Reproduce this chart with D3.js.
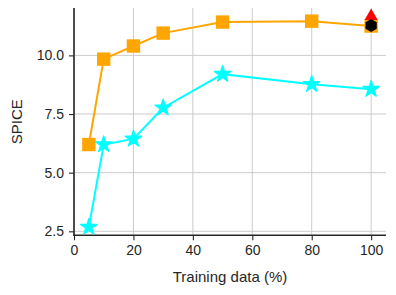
<!DOCTYPE html>
<html>
<head>
<meta charset="utf-8">
<script src="https://cdn.jsdelivr.net/npm/d3@7"></script>
<style>
  body { margin: 0; background: #fff; }
  svg { display: block; font-family: "Liberation Sans", Arial, sans-serif; }
</style>
</head>
<body>
<svg id="chart" width="396" height="295"></svg>
<script>
// data
const trainPct = [5, 10, 20, 30, 50, 80, 100];
const squareSeries = [6.2, 9.84, 10.4, 10.95, 11.42, 11.46, 11.25];
const starSeries = [2.68, 6.2, 6.44, 7.77, 9.2, 8.77, 8.56];
const extraX = [100];
const triangleVal = [11.67];
const hexVal = [11.27];
const xTicks = [0, 20, 40, 60, 80, 100];
const yTicks = [2.5, 5.0, 7.5, 10.0];

const svg = d3.select('#chart');
const plotL = 74, plotR = 386, plotT = 8, plotB = 235.3;

const x = d3.scaleLinear().domain([0, 105]).range([plotL, plotR]);
const y = d3.scaleLinear().domain([2.33, 12.02]).range([plotB, plotT]);

// grid
svg.append('g')
    .selectAll('line')
    .data(xTicks)
    .enter()
    .append('line')
    .attr('x1', d => x(d)).attr('x2', d => x(d))
    .attr('y1', plotT).attr('y2', plotB)
    .attr('stroke', '#cccccc').attr('stroke-width', 1);
svg.append('g')
    .selectAll('line')
    .data(yTicks)
    .enter()
    .append('line')
    .attr('x1', plotL).attr('x2', plotR)
    .attr('y1', d => y(d)).attr('y2', d => y(d))
    .attr('stroke', '#cccccc').attr('stroke-width', 1);

// axes
const xAxis = d3.axisBottom(x).tickValues(xTicks).tickSize(5).tickPadding(5).tickFormat(d3.format('d'));
const yAxis = d3.axisLeft(y).tickValues(yTicks).tickSize(5).tickPadding(5).tickFormat(d3.format('.1f'));

const gx = svg.append('g').attr('transform', `translate(0,${plotB})`).call(xAxis);
const gy = svg.append('g').attr('transform', `translate(${plotL},0)`).call(yAxis);
[gx, gy].forEach(g => {
    g.select('.domain').remove();
    g.selectAll('line').attr('stroke', '#262626').attr('stroke-width', 1.1);
    g.selectAll('text').attr('fill', '#262626').style('font-size', '14px')
        .style('font-family', '"Liberation Sans", Arial, sans-serif');
});

// spines
svg.append('line').attr('x1', plotL).attr('x2', plotL).attr('y1', plotT).attr('y2', plotB + 0.6)
    .attr('stroke', '#262626').attr('stroke-width', 1.6);
svg.append('line').attr('x1', plotL - 0.6).attr('x2', plotR).attr('y1', plotB).attr('y2', plotB)
    .attr('stroke', '#262626').attr('stroke-width', 1.6);

// labels
svg.append('text')
    .attr('x', (plotL + plotR) / 2).attr('y', 282)
    .attr('text-anchor', 'middle').attr('fill', '#262626')
    .style('font-size', '15px')
    .text('Training data (%)');
svg.append('text')
    .attr('transform', `translate(22,${(plotT + plotB) / 2}) rotate(-90)`)
    .attr('text-anchor', 'middle').attr('fill', '#262626')
    .style('font-size', '15px')
    .text('SPICE');

// lines
const line = d3.line().x(d => x(d[0])).y(d => y(d[1]));
const sqPts = trainPct.map((d, i) => [d, squareSeries[i]]);
const stPts = trainPct.map((d, i) => [d, starSeries[i]]);

svg.append('path').attr('d', line(stPts)).attr('fill', 'none')
    .attr('stroke', '#00ffff').attr('stroke-width', 2);
svg.append('g').selectAll('path').data(stPts).enter().append('path')
    .attr('transform', d => `translate(${x(d[0])},${y(d[1])})`)
    .attr('d', d3.symbol().type(d3.symbolStar).size(85))
    .attr('fill', '#00ffff').attr('stroke', '#00ffff').attr('stroke-width', 1.2)
    .attr('stroke-linejoin', 'round');

svg.append('path').attr('d', line(sqPts)).attr('fill', 'none')
    .attr('stroke', '#ffa500').attr('stroke-width', 2);
svg.append('g').selectAll('path').data(sqPts).enter().append('path')
    .attr('transform', d => `translate(${x(d[0])},${y(d[1])})`)
    .attr('d', d3.symbol().type(d3.symbolSquare).size(180))
    .attr('fill', '#ffa500');

// extra markers
svg.append('g').selectAll('path').data(extraX).enter().append('path')
    .attr('transform', (d, i) => `translate(${x(d)},${y(triangleVal[i])})`)
    .attr('d', d3.symbol().type(d3.symbolTriangle).size(75))
    .attr('fill', '#ff0000');

const hexR = 6.5;
const hexPath = d3.line()(d3.range(6).map(k => {
    const a = Math.PI / 6 + k * Math.PI / 3;
    return [hexR * Math.cos(a), hexR * Math.sin(a)];
})) + 'Z';
svg.append('g').selectAll('path').data(extraX).enter().append('path')
    .attr('transform', (d, i) => `translate(${x(d)},${y(hexVal[i])})`)
    .attr('d', hexPath)
    .attr('fill', '#000000');
</script>
</body>
</html>
